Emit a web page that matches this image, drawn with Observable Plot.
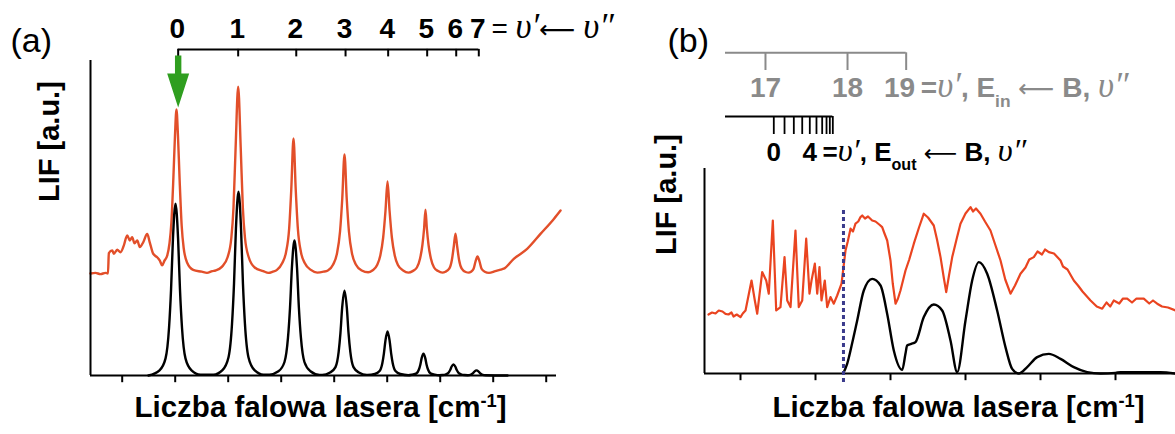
<!DOCTYPE html>
<html><head><meta charset="utf-8">
<script src="https://cdn.jsdelivr.net/npm/d3@7"></script>
<script src="https://cdn.jsdelivr.net/npm/@observablehq/plot@0.6"></script>
<style>
body{margin:0;background:#fff}
#wrap{position:relative;width:1175px;height:434px;overflow:hidden;background:#fff}
#wrap svg{position:absolute;top:0}
</style>
</head><body><div id="wrap"></div>
<script>
// ---------- DATA ----------
// Panel (a): relative laser wavenumber (x) vs LIF (y, a.u.)
const redA = [[-29.9,34],[-25.2,34.2],[-20.5,33.8],[-15.8,34.2],[-13.4,34],[-12.6,40.8],[-9.4,41.7],[-7.9,40.6],[-4.7,41.9],[-1.6,41.1],[1.5,43.3],[4.7,46.7],[7.2,45],[9.4,46.1],[11.6,44.1],[14.2,45],[16.6,42.8],[19.8,44.4],[23.6,47.2],[26,44.4],[29.2,40.6],[33,39.4],[35.5,38.3],[37.7,36.7],[39.9,38.3],[42.5,40],[44.6,44],[46.4,51],[48.3,66],[49.8,80],[51.2,88.7],[52.6,80],[54.2,65],[56.1,50],[58,42.5],[61.4,37.5],[67,35.2],[75,34.6],[80,34.2],[85,34.8],[88,35],[94,36.2],[99.5,39.5],[103,46],[105,56],[107,76],[109.4,96.3],[111.8,76],[113.8,56],[115.8,46],[119.3,39.5],[125,36],[133,34.8],[138,34.2],[142,34.6],[146,35.2],[151,37.5],[154.5,41],[157.5,49],[159.5,62],[161.6,79],[163.7,62],[165.7,49],[168.7,41],[172.2,37.5],[178,35.2],[184,34.3],[190,34.6],[194,35],[199,37],[202.5,40.5],[205.5,48],[207.6,59],[209.7,73.7],[211.8,59],[213.9,48],[216.9,40.5],[220.4,37],[226,35],[232,34.4],[236,35],[240.5,36.8],[243.5,40],[246.2,46],[248.4,55],[250.3,64.7],[252.2,55],[254.4,46],[257.1,40],[260.1,36.8],[265,35],[270,34.3],[274,34.8],[278,36],[281,39],[283.2,43.5],[284.8,49],[286.1,55.3],[287.4,49],[289,43.5],[291.2,39],[294.2,36],[298,34.8],[302,34.3],[305,34.6],[308.5,35.6],[311,38.5],[312.8,43],[314.4,47.3],[316,43],[317.8,38.5],[320.3,35.6],[324,34.5],[327,34.3],[329,34.6],[331.5,35.6],[333.3,38],[335.2,39.7],[337.1,38],[339,35.6],[342,34.6],[346,34.2],[352,34.8],[357,35.3],[360,35.6],[369.4,38.9],[382,42.2],[394.6,47.2],[407.2,52.2],[413.5,55]];
const blackA = [[24.8,0],[35.2,1.7],[40.9,5.7],[44.2,16],[46.1,28.7],[47.9,45.8],[50.3,57.3],[52.7,45.8],[54.5,28.7],[56.4,16],[59.7,5.7],[65.4,1.7],[73.9,0.3],
[86.1,0.3],[94.6,1.8],[100.3,6.1],[103.6,17.2],[105.5,30.7],[107.3,49],[109.7,61.3],[112.1,49],[113.9,30.7],[115.8,17.2],[119.1,6.1],[124.8,1.8],[133.3,0.3],
[138.9,0.3],[147.4,1.4],[153.1,4.5],[156.4,12.6],[158.3,22.5],[160.1,36],[162.5,45],[164.9,36],[166.7,22.5],[168.6,12.6],[171.9,4.5],[177.6,1.4],[186.1,0.2],
[188.7,0.2],[196.1,1],[201.2,2.8],[204.2,7.9],[205.9,14.2],[207.5,22.6],[209.7,28.3],[211.9,22.6],[213.5,14.2],[215.2,7.9],[218.2,2.8],[223.3,1],[230.7,0.2],
[231.4,0.2],[238.3,0.5],[242.8,1.5],[245.4,4.1],[246.9,7.4],[248.4,11.8],[250.3,14.7],[252.2,11.8],[253.7,7.4],[255.2,4.1],[257.8,1.5],[262.3,0.5],
[270,0.1],[273.6,0.3],[277.6,0.7],[279.9,2],[281.3,3.7],[282.5,5.8],[284.2,7.3],[285.9,5.8],[287.1,3.7],[288.5,2],[290.8,0.7],[294.8,0.3],
[299,0.1],[302,0.15],[305.5,0.4],[308,1],[309.5,1.9],[310.8,3],[312.5,3.7],[314.2,3],[315.5,1.9],[317,1],[319.5,0.4],[323,0.15],
[326,0.1],[329,0.3],[331,0.8],[332.5,1.4],[334.2,1.7],[336,1.4],[337.5,0.8],[339.5,0.3],[343,0.1],[363.5,0]];
const ticksA = [0, 50, 100, 150, 200, 250, 300, 350, 400];
const levelsA = [0, 1, 2, 3, 4, 5, 6, 7];
const levelPosA = [52.8, 109.4, 164.2, 210.7, 250.9, 287.7, 315.1, 336.4];

// Panel (b)
const redB = [[-0.427,29.5],[-0.38,30.5],[-0.333,30],[-0.29,31.5],[-0.24,31],[-0.2,29.8],[-0.16,29.5],[-0.12,30.5],[-0.093,28.5],[-0.05,29.5],[0,28.2],[0.03,30],[0.067,31.5],[0.147,46.5],[0.191,36.5],[0.223,29.9],[0.289,50.7],[0.343,46.5],[0.377,39.9],[0.431,76.5],[0.476,31.5],[0.533,33.2],[0.587,58.2],[0.623,36.5],[0.667,33.2],[0.733,71.5],[0.777,33.2],[0.823,36.5],[0.876,67.4],[0.92,39.9],[0.947,46.5],[0.991,54.9],[1.023,39.9],[1.053,53.2],[1.08,36.5],[1.124,46.5],[1.156,33.2],[1.2,38.2],[1.244,34.9],[1.289,39],[1.347,44.9],[1.4,61.5],[1.43,66],[1.467,72.4],[1.5,71],[1.533,74.9],[1.57,76],[1.6,78.2],[1.623,79],[1.66,77.5],[1.7,78.5],[1.756,76.5],[1.8,76],[1.85,74.5],[1.889,73.2],[1.92,70],[1.956,66.5],[2.0,56.5],[2.03,45],[2.067,34.9],[2.1,37.5],[2.133,41.5],[2.2,51.5],[2.25,57],[2.311,64.9],[2.38,73],[2.444,79.9],[2.5,78],[2.577,74],[2.62,67],[2.667,58.2],[2.71,48],[2.743,40.7],[2.78,49],[2.823,58.2],[2.88,67],[2.933,74.9],[3.0,80],[3.067,83.2],[3.1,81],[3.14,82.5],[3.2,79.9],[3.26,76],[3.333,71.5],[3.4,64],[3.467,56.5],[3.53,47],[3.6,39.9],[3.66,44],[3.733,49.9],[3.8,53],[3.85,57],[3.911,58.2],[3.96,61],[4.02,59.5],[4.06,62],[4.111,60.7],[4.18,60],[4.267,56.5],[4.3,53.5],[4.36,52],[4.444,46.5],[4.5,44],[4.56,41],[4.667,36.5],[4.75,33.5],[4.823,32.4],[4.88,35.5],[4.93,33.5],[4.977,36.5],[5.05,35],[5.1,37.5],[5.156,37.4],[5.22,35.5],[5.28,37.5],[5.377,37.4],[5.45,35],[5.5,36.5],[5.556,34.9],[5.62,33.5],[5.7,33],[5.8,31.5]];
const blackB = [[1.369,0],[1.422,4.8],[1.5,17],[1.556,26.5],[1.644,41.5],[1.756,47.3],[1.867,44],[1.956,29.8],[2.044,11.5],[2.156,1.8],[2.2,10],[2.222,14],[2.276,14.8],[2.333,15.7],[2.444,28.2],[2.577,34.5],[2.689,31.5],[2.8,16.5],[2.889,0.7],[3.0,26.5],[3.089,46.5],[3.178,55.7],[3.289,49.9],[3.422,31.5],[3.533,13.2],[3.622,2.3],[3.711,0],[3.822,3.2],[3.956,8.2],[4.111,9.8],[4.267,7.3],[4.444,3.2],[4.622,0.7],[4.8,0],[5.0,0.3],[5.067,0.7],[5.6,0.7],[5.8,0]];
const ticksB = [0, 1, 2, 3, 4, 5];
const levelsIn = [17, 18, 19];
const levelPosIn = [0.333, 1.427, 2.209];
const labelPosIn = [0.333, 1.427, 2.12];
const levelsOut = [0, 1, 2, 3, 4, 5, 6, 7, 8, 9];
const levelPosOut = [0.444, 0.587, 0.711, 0.823, 0.924, 1.013, 1.089, 1.147, 1.191, 1.231];
const labelsOut = [0, 4];
const thresholdB = 1.373;

// Texts
const panelA = "(a)", panelB = "(b)";
const yLabel = "LIF [a.u.]";
const xLabel = "Liczba falowa lasera [cm^{-1}]";
const suffixA = "= [[υ′]]← [[υ″]]";
const suffixIn = " =[[υ′]], E_{in} ← B, [[υ″]]";
const suffixOut = "=[[υ′]], E_{out} ← B, [[υ″]]";

// ---------- STYLE ----------
const SANS = "'Liberation Sans', Arial, 'DejaVu Sans', sans-serif";
const SERIF = "'Liberation Serif', 'DejaVu Serif', serif";
const RED_A = "#e24f2a", RED_B = "#ea4420", GREEN = "#2f9e1f", GRAY = "#8a8a8a", NAVY = "#3b3b8c";
const FS = 28;

const arrowShape = {
  draw(ctx, l) {
    const hl = 34, hw = 11, sw = 3.2;
    ctx.moveTo(-sw, 0);
    ctx.lineTo(-sw, -(l - hl));
    ctx.lineTo(-hw, -(l - hl));
    ctx.lineTo(0, -l);
    ctx.lineTo(hw, -(l - hl));
    ctx.lineTo(sw, -(l - hl));
    ctx.lineTo(sw, 0);
    ctx.closePath();
  }
};

const X = d => d[0], Y = d => d[1];

const plotA = Plot.plot({
  width: 640, height: 434,
  marginTop: 60, marginBottom: 59, marginLeft: 90, marginRight: 84,
  x: {domain: [-29.9, 409.7], axis: null},
  y: {domain: [0, 105], axis: null},
  style: {fontFamily: SANS, background: "transparent", overflow: "visible"},
  marks: [
    Plot.line(redA, {x: X, y: Y, stroke: RED_A, strokeWidth: 2.4, curve: "monotone-x"}),
    Plot.line(blackA, {x: X, y: Y, stroke: "black", strokeWidth: 2.4, curve: "monotone-x"}),
    Plot.ruleY([0], {stroke: "black", strokeWidth: 2}),
    Plot.ruleX([-29.9], {stroke: "black", strokeWidth: 2}),
    Plot.ruleX(ticksA, {y1: 0, y2: -2.4, stroke: "black", strokeWidth: 2}),
    Plot.ruleY([108.7], {x1: levelPosA[0], x2: levelPosA[levelPosA.length - 1], stroke: "black", strokeWidth: 2}),
    Plot.ruleX(levelPosA, {y1: 106.2, y2: 108.7, stroke: "black", strokeWidth: 2}),
    Plot.text(levelsA, {x: (d, i) => levelPosA[i], y: 115.5, text: d => String(d), fontSize: FS, fontWeight: "bold", dx: -1}),
    Plot.text([suffixA], {x: 348.3, y: 115.5, textAnchor: "start", fontSize: FS}),
    Plot.vector([levelPosA[0]], {x: d => d, y: 89.3, length: 52, rotate: 180, anchor: "end", shape: arrowShape, fill: GREEN, stroke: "none"}),
    Plot.text([panelA], {frameAnchor: "top-left", textAnchor: "start", dx: -80, dy: -33, fontSize: 34}),
    Plot.text([yLabel], {frameAnchor: "left", rotate: -90, dx: -41, dy: -16, fontSize: 29, fontWeight: "bold"}),
    Plot.text([xLabel], {frameAnchor: "bottom", dx: -3, dy: 41, fontSize: 29.5, fontWeight: "bold"})
  ]
});

const plotB = Plot.plot({
  width: 535, height: 434,
  marginTop: 168, marginBottom: 61, marginLeft: 64, marginRight: 0,
  x: {domain: [-0.48, 5.8], axis: null},
  y: {domain: [0, 102.5], axis: null},
  style: {fontFamily: SANS, background: "transparent", overflow: "visible"},
  marks: [
    Plot.line(redB, {x: X, y: Y, stroke: RED_B, strokeWidth: 2.2, curve: "linear"}),
    Plot.line(blackB, {x: X, y: Y, stroke: "black", strokeWidth: 2.4, curve: "monotone-x"}),
    Plot.ruleY([0], {stroke: "black", strokeWidth: 2}),
    Plot.ruleX([-0.48], {stroke: "black", strokeWidth: 2}),
    Plot.ruleX(ticksB, {y1: 0, y2: -3.6, stroke: "black", strokeWidth: 2}),
    Plot.ruleX([thresholdB], {y1: -4.5, y2: 82.5, stroke: NAVY, strokeWidth: 3, strokeDasharray: "4,3"}),
    // E_in progression (gray)
    Plot.ruleY([160.35], {x1: -0.2, x2: levelPosIn[levelPosIn.length - 1], stroke: GRAY, strokeWidth: 2}),
    Plot.ruleX(levelPosIn, {y1: 151.5, y2: 160.35, stroke: GRAY, strokeWidth: 2}),
    Plot.text(levelsIn, {x: (d, i) => labelPosIn[i], y: 142.5, text: d => String(d), fill: GRAY, fontSize: FS, fontWeight: "bold"}),
    Plot.text([suffixIn], {x: 2.3, y: 142.5, textAnchor: "start", fill: GRAY, fontSize: FS, fontWeight: "bold"}),
    // E_out progression (black)
    Plot.ruleY([128.5], {x1: -0.2, x2: levelPosOut[levelPosOut.length - 1], stroke: "black", strokeWidth: 2}),
    Plot.ruleX(levelPosOut, {y1: 119.5, y2: 128.5, stroke: "black", strokeWidth: 1.8}),
    Plot.text(labelsOut, {x: d => levelPosOut[d], y: 110.5, text: d => String(d), fontSize: 26, fontWeight: "bold"}),
    Plot.text([suffixOut], {x: 1.093, y: 110.5, textAnchor: "start", fontSize: 26, fontWeight: "bold"}),
    Plot.text([panelB], {frameAnchor: "top-left", textAnchor: "start", dx: -37, dy: -141, fontSize: 34}),
    Plot.text([yLabel], {frameAnchor: "left", rotate: -90, dx: -38, dy: -16, fontSize: 29, fontWeight: "bold"}),
    Plot.text([xLabel], {frameAnchor: "bottom", dx: 18.5, dy: 43, fontSize: 29.5, fontWeight: "bold"})
  ]
});

// Rich text: _{sub}, ^{sup}, [[serif italic]], long thin arrow
function richify(svg) {
  d3.select(svg).selectAll("text").each(function () {
    const s = this.textContent;
    if (!/[_^]\{|\[\[|←/.test(s)) return;
    const parts = s.split(/(_\{[^}]*\}|\^\{[^}]*\}|\[\[[^\]]*\]\]|←)/).filter(p => p);
    const t = d3.select(this);
    t.text(null);
    for (const p of parts) {
      if (p.startsWith("_{")) t.append("tspan").attr("baseline-shift", "sub").attr("font-size", "62%").text(p.slice(2, -1));
      else if (p.startsWith("^{")) t.append("tspan").attr("baseline-shift", "super").attr("font-size", "62%").text(p.slice(2, -1));
      else if (p.startsWith("[[")) t.append("tspan").attr("font-family", SERIF).attr("font-style", "italic").attr("font-weight", "normal").attr("font-size", "125%").text(p.slice(2, -2));
      else if (p === "←") t.append("tspan").attr("font-family", "'DejaVu Sans', sans-serif").attr("font-weight", "normal").attr("font-size", "90%").text("⟵");
      else t.append("tspan").text(p);
    }
  });
}
richify(plotA); richify(plotB);

const wrap = document.getElementById("wrap");
plotA.style.left = "0px";
plotB.style.left = "640px";
wrap.append(plotA, plotB);
</script></body></html>
